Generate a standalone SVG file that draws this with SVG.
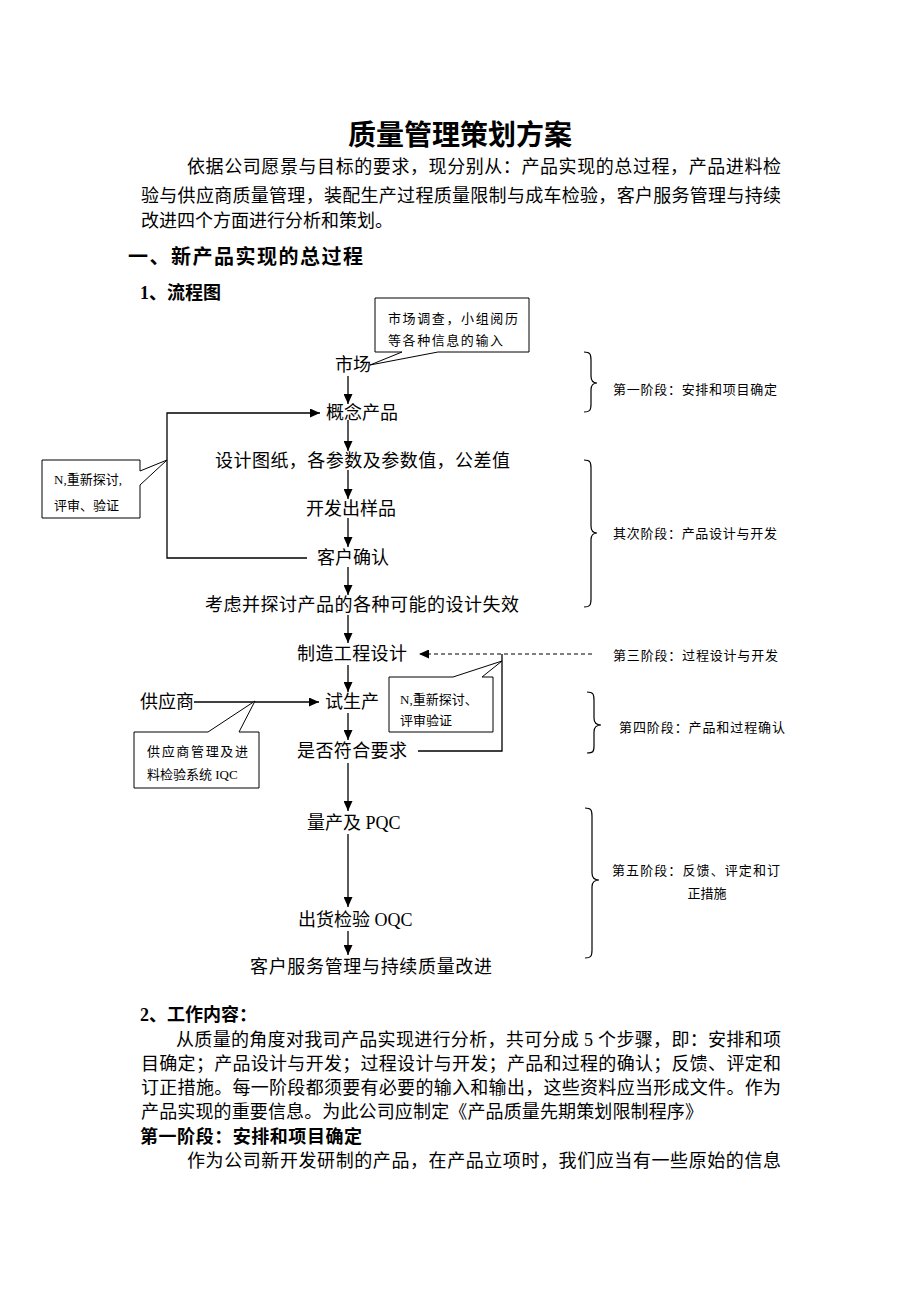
<svg xmlns="http://www.w3.org/2000/svg" width="920" height="1302" viewBox="0 0 920 1302">
<defs>
<style>
text{font-family:"Liberation Serif","Noto Sans CJK SC",serif;fill:#000;dominant-baseline:central}
.t{font-size:18px}
.h{font-size:18px;font-weight:bold}
.s{font-size:13px}
.ln{stroke:#000;stroke-width:1.3;fill:none}
.box{stroke:#000;stroke-width:1;fill:#fff}
.dash{stroke:#000;stroke-width:1.2;fill:none;stroke-dasharray:4 3}
.br{stroke:#000;stroke-width:1.2;fill:none}
</style>
<marker id="ah" markerUnits="userSpaceOnUse" markerWidth="10" markerHeight="9" refX="10" refY="4.5" orient="auto">
<path d="M0,0 L10,4.5 L0,9 Z" fill="#000"/>
</marker>
</defs>
<rect width="920" height="1302" fill="#fff"/>

<g id="header">
<text x="460" y="135" text-anchor="middle" style="font-size:28px;font-weight:bold">质量管理策划方案</text>
<text class="t" x="187" y="167" textLength="594" lengthAdjust="spacing">依据公司愿景与目标的要求，现分别从：产品实现的总过程，产品进料检</text>
<text class="t" x="141" y="196" textLength="640" lengthAdjust="spacing">验与供应商质量管理，装配生产过程质量限制与成车检验，客户服务管理与持续</text>
<text class="t" x="141" y="221">改进四个方面进行分析和策划。</text>
<text x="128" y="257" style="font-size:20px;font-weight:bold" textLength="235" lengthAdjust="spacing">一、新产品实现的总过程</text>
<text class="h" x="140" y="293">1、流程图</text>
</g>

<g id="connectors">
<line class="ln" x1="348" y1="376" x2="348" y2="404" marker-end="url(#ah)"/>
<line class="ln" x1="348" y1="420" x2="348" y2="451" marker-end="url(#ah)"/>
<line class="ln" x1="348" y1="470" x2="348" y2="499" marker-end="url(#ah)"/>
<line class="ln" x1="348" y1="518" x2="348" y2="547" marker-end="url(#ah)"/>
<line class="ln" x1="348" y1="567" x2="348" y2="595" marker-end="url(#ah)"/>
<line class="ln" x1="348" y1="615" x2="348" y2="643" marker-end="url(#ah)"/>
<line class="ln" x1="348" y1="665" x2="348" y2="692" marker-end="url(#ah)"/>
<line class="ln" x1="348" y1="713" x2="348" y2="740" marker-end="url(#ah)"/>
<line class="ln" x1="348" y1="763" x2="348" y2="811" marker-end="url(#ah)"/>
<line class="ln" x1="348" y1="834" x2="348" y2="907" marker-end="url(#ah)"/>
<line class="ln" x1="348" y1="931" x2="348" y2="955" marker-end="url(#ah)"/>
<polyline class="ln" points="307,558 167,558 167,413 320,413" marker-end="url(#ah)"/>
<line class="ln" x1="194" y1="702" x2="319" y2="702" marker-end="url(#ah)"/>
<polyline class="ln" points="418,751 502,751 502,654"/>
<line class="dash" x1="592" y1="654" x2="419" y2="654" marker-end="url(#ah)"/>
</g>

<g id="n-market"><text class="t" x="335" y="365">市场</text></g>
<g id="n-concept"><text class="t" x="326" y="413">概念产品</text></g>
<g id="n-drawing"><text class="t" x="215" y="461" textLength="295" lengthAdjust="spacing">设计图纸，各参数及参数值，公差值</text></g>
<g id="n-sample"><text class="t" x="306" y="509">开发出样品</text></g>
<g id="n-confirm"><text class="t" x="317" y="558">客户确认</text></g>
<g id="n-failure"><text class="t" x="205" y="605" textLength="314" lengthAdjust="spacing">考虑并探讨产品的各种可能的设计失效</text></g>
<g id="n-mfg"><text class="t" x="297" y="654" textLength="110" lengthAdjust="spacing">制造工程设计</text></g>
<g id="n-trial"><text class="t" x="325" y="702">试生产</text></g>
<g id="n-supplier"><text class="t" x="140" y="702">供应商</text></g>
<g id="n-check"><text class="t" x="297" y="751" textLength="110" lengthAdjust="spacing">是否符合要求</text></g>
<g id="n-pqc"><text class="t" x="307" y="823">量产及 PQC</text></g>
<g id="n-oqc"><text class="t" x="298" y="920">出货检验 OQC</text></g>
<g id="n-service"><text class="t" x="250" y="967" textLength="242" lengthAdjust="spacing">客户服务管理与持续质量改进</text></g>

<g id="c-market">
<path class="box" d="M375,298 H529 V352 H438 L370,365 L402,352 H375 Z"/>
<text class="s" x="388" y="318" textLength="130" lengthAdjust="spacing">市场调查，小组阅历</text>
<text class="s" x="388" y="340" textLength="115" lengthAdjust="spacing">等各种信息的输入</text>
</g>
<g id="c-review1">
<path class="box" d="M42,460 H140 V471 L167,460 L140,485 V518 H42 Z"/>
<text class="s" x="54" y="479">N,重新探讨,</text>
<text class="s" x="54" y="505">评审、验证</text>
</g>
<g id="c-iqc">
<path class="box" d="M134,732 H208 L255,701 L239,732 H259 V788 H134 Z"/>
<text class="s" x="147" y="751" textLength="101" lengthAdjust="spacing">供应商管理及进</text>
<text class="s" x="147" y="774">料检验系统 IQC</text>
</g>
<g id="c-review2">
<path class="box" d="M389,677 H453 L502,661 L482,677 H493 V732 H389 Z"/>
<text class="s" x="400" y="699">N,重新探讨、</text>
<text class="s" x="400" y="720">评审验证</text>
</g>

<g id="stage1">
<path class="br" d="M584,352 C590,352 591,354 591,360 L591,376 C591,380 593,383 597,383 C593,383 591,386 591,390 L591,404 C591,410 590,412 584,412"/>
<text class="s" x="613" y="389" textLength="164" lengthAdjust="spacing">第一阶段：安排和项目确定</text>
</g>
<g id="stage2">
<path class="br" d="M584,460 C590,460 591,462 591,468 L591,526 C591,530 593,533 597,533 C593,533 591,536 591,540 L591,599 C591,605 590,607 584,607"/>
<text class="s" x="613" y="533" textLength="164" lengthAdjust="spacing">其次阶段：产品设计与开发</text>
</g>
<g id="stage3">
<text class="s" x="613" y="655" textLength="165" lengthAdjust="spacing">第三阶段：过程设计与开发</text>
</g>
<g id="stage4">
<path class="br" d="M587,692 C593,692 594,694 594,700 L594,718 C594,722 596,725 601,725 C596,725 594,728 594,732 L594,746 C594,752 593,753 587,753"/>
<text class="s" x="619" y="727" textLength="166" lengthAdjust="spacing">第四阶段：产品和过程确认</text>
</g>
<g id="stage5">
<path class="br" d="M585,808 C591,808 592,810 592,816 L592,873 C592,877 594,880 599,880 C594,880 592,883 592,887 L592,950 C592,956 591,958 585,958"/>
<text class="s" x="612" y="870" textLength="168" lengthAdjust="spacing">第五阶段：反馈、评定和订</text>
<text class="s" x="707" y="893" text-anchor="middle">正措施</text>
</g>

<g id="body">
<text class="h" x="140" y="1015">2、工作内容：</text>
<text class="t" x="176" y="1040" textLength="605" lengthAdjust="spacing">从质量的角度对我司产品实现进行分析，共可分成 5 个步骤，即：安排和项</text>
<text class="t" x="141" y="1064" textLength="640" lengthAdjust="spacing">目确定；产品设计与开发；过程设计与开发；产品和过程的确认；反馈、评定和</text>
<text class="t" x="141" y="1088" textLength="640" lengthAdjust="spacing">订正措施。每一阶段都须要有必要的输入和输出，这些资料应当形成文件。作为</text>
<text class="t" x="141" y="1112" textLength="562" lengthAdjust="spacing">产品实现的重要信息。为此公司应制定《产品质量先期策划限制程序》</text>
<text class="h" x="140" y="1137" textLength="222" lengthAdjust="spacing">第一阶段：安排和项目确定</text>
<text class="t" x="187" y="1161" textLength="594" lengthAdjust="spacing">作为公司新开发研制的产品，在产品立项时，我们应当有一些原始的信息</text>
</g>
</svg>
